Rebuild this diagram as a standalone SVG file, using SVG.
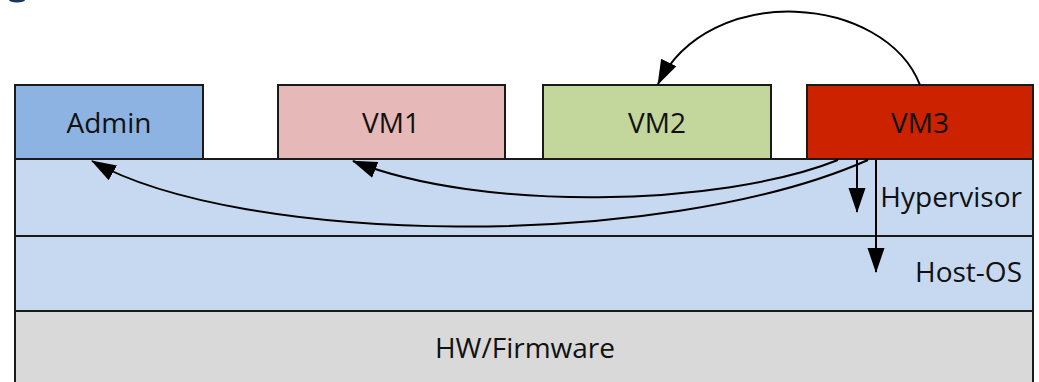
<svg xmlns="http://www.w3.org/2000/svg" width="1039" height="382" viewBox="0 0 1039 382">
  <style>
    .box { stroke: #1a1a1a; stroke-width: 2; }
    .lbl { font-family: "Open Sans", "Noto Sans", sans-serif; font-size: 28px; fill: #111; }
    .mid { text-anchor: middle; }
    .end { text-anchor: end; }
    .wire { fill: none; stroke: #000; stroke-width: 2; }
  </style>
  <defs>
    <marker id="head" markerUnits="userSpaceOnUse" markerWidth="26" markerHeight="20" viewBox="0 -9 26 18" refX="24" refY="0" orient="auto">
      <path d="M0,-8.5 L25,0 L0,8.5 z" fill="#000"/>
    </marker>
  </defs>

  <!-- clipped heading fragment at the top edge -->
  <ellipse cx="17" cy="0" rx="8" ry="2.5" fill="#17375e"/>

  <!-- platform layers -->
  <g id="hardware">
    <rect class="box" x="15" y="311" width="1018" height="80" fill="#d9d9d9"/>
    <text class="lbl mid" x="525" y="358">HW/Firmware</text>
  </g>
  <g id="host-os">
    <rect class="box" x="15" y="236" width="1018" height="75" fill="#c6d9f0"/>
    <text class="lbl end" x="1022" y="282">Host-OS</text>
  </g>
  <g id="hypervisor">
    <rect class="box" x="15" y="159" width="1018" height="77" fill="#c6d9f0"/>
    <text class="lbl end" x="1022" y="207">Hypervisor</text>
  </g>

  <!-- guests -->
  <g id="admin">
    <rect class="box" x="15" y="85" width="188" height="74" fill="#8db3e2"/>
    <text class="lbl mid" x="109" y="133">Admin</text>
  </g>
  <g id="vm1">
    <rect class="box" x="278" y="85" width="227" height="74" fill="#e6b9b8"/>
    <text class="lbl mid" x="391" y="133">VM1</text>
  </g>
  <g id="vm2">
    <rect class="box" x="543" y="85" width="228" height="74" fill="#c3d69b"/>
    <text class="lbl mid" x="657" y="133">VM2</text>
  </g>
  <g id="vm3">
    <rect class="box" x="807" y="85" width="226" height="74" fill="#cc2200"/>
    <text class="lbl mid" x="920" y="133">VM3</text>
  </g>

  <!-- connectors -->
  <g id="connectors">
    <path class="wire" d="M920,85 C885,-5 710,-20 658,84" marker-end="url(#head)"/>
    <path class="wire" d="M838,160 C720,207 480,212 353,161" marker-end="url(#head)"/>
    <path class="wire" d="M868,160 C660,252 240,245 92,161" marker-end="url(#head)"/>
    <path class="wire" d="M857,160 L857,212" marker-end="url(#head)"/>
    <path class="wire" d="M876,160 L876,272" marker-end="url(#head)"/>
  </g>
</svg>
